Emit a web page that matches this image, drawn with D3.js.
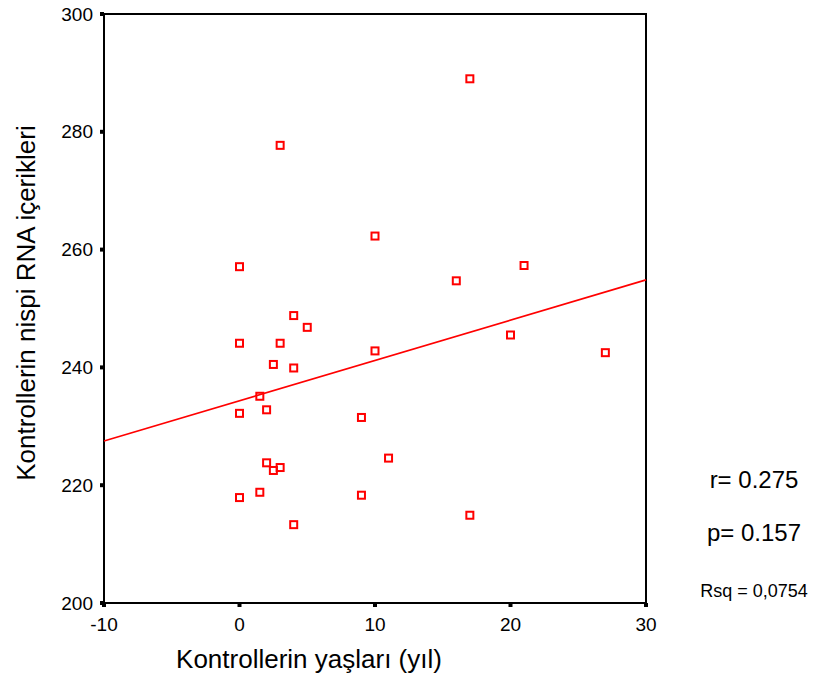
<!DOCTYPE html>
<html>
<head>
<meta charset="utf-8">
<script src="https://cdn.jsdelivr.net/npm/d3@7"></script>
<style>
  body { margin: 0; background: #fff; }
  text { font-family: "Liberation Sans", Arial, sans-serif; fill: #000; }
</style>
</head>
<body>
<div id="div_chart"></div>
<script>
// Data
var ages = [17, 3, 10, 0, 21, 16, 4, 5, 0, 3, 20, 10, 27, 2.5, 4, 1.5, 0, 2, 9, 2, 2.5, 3, 11, 1.5, 0, 9, 4, 17];
var rnaValues = [289.0, 277.7, 262.3, 257.1, 257.3, 254.7, 248.8, 246.8, 244.1, 244.1, 245.5, 242.8, 242.5, 240.5, 239.9, 235.1, 232.2, 232.8, 231.5, 223.8, 222.5, 223.0, 224.6, 218.8, 217.9, 218.3, 213.3, 214.9];
var xTicks = [-10, 0, 10, 20, 30];
var yTicks = [200, 220, 240, 260, 280, 300];
var statLabels = ["r= 0.275", "p= 0.157"];
var rsqLabel = "Rsq = 0,0754";

var data = ages.map(function (a, i) { return {x: a, y: rnaValues[i]}; });

// Set the dimensions of the svg
var margin = {top: 14, right: 173, bottom: 85, left: 104};
var svgWidth = 819;
var svgHeight = 688;
var graphWidth = svgWidth - margin.left - margin.right;
var graphHeight = svgHeight - margin.top - margin.bottom;

var svg = d3.select("#div_chart")
    .append("svg")
        .attr("width", svgWidth)
        .attr("height", svgHeight)
    .append("g")
        .attr("transform", "translate(" + margin.left + "," + margin.top + ")");

var x = d3.scaleLinear().domain([-10, 30]).range([0, graphWidth]);
var y = d3.scaleLinear().domain([200, 300]).range([graphHeight, 0]);

// Frame
svg.append("rect")
    .attr("x", 0).attr("y", 0)
    .attr("width", graphWidth).attr("height", graphHeight)
    .attr("fill", "none").attr("stroke", "#000").attr("stroke-width", 2);

// Y ticks (small black squares) and labels
svg.selectAll("yTick")
    .data(yTicks)
    .enter()
    .append("rect")
    .attr("x", -4).attr("y", d => y(d) - 2)
    .attr("width", 4).attr("height", 4)
    .attr("fill", "#000");
svg.selectAll("yLabel")
    .data(yTicks)
    .enter()
    .append("text")
    .attr("x", -11).attr("y", d => y(d))
    .attr("dy", "0.35em")
    .attr("text-anchor", "end")
    .style("font-size", "19px")
    .text(d => d);

// X ticks and labels
svg.selectAll("xTick")
    .data(xTicks)
    .enter()
    .append("rect")
    .attr("x", d => x(d) - 2).attr("y", graphHeight)
    .attr("width", 4).attr("height", 4)
    .attr("fill", "#000");
svg.selectAll("xLabel")
    .data(xTicks)
    .enter()
    .append("text")
    .attr("x", d => x(d)).attr("y", graphHeight + 28)
    .attr("text-anchor", "middle")
    .style("font-size", "19px")
    .text(d => d);

// Least squares fit line
var mx = d3.mean(data, d => d.x), my = d3.mean(data, d => d.y);
var sxy = d3.sum(data, d => (d.x - mx) * (d.y - my));
var sxx = d3.sum(data, d => (d.x - mx) * (d.x - mx));
var slope = sxy / sxx, icept = my - slope * mx;
svg.append("line")
    .attr("x1", x(-10)).attr("y1", y(icept + slope * -10))
    .attr("x2", x(30)).attr("y2", y(icept + slope * 30))
    .attr("stroke", "#ff0000").attr("stroke-width", 1.6);

// Points
svg.selectAll("pt")
    .data(data)
    .enter()
    .append("rect")
    .attr("x", d => x(d.x) - 3.5).attr("y", d => y(d.y) - 3.5)
    .attr("width", 7).attr("height", 7)
    .attr("fill", "none").attr("stroke", "#ff0000").attr("stroke-width", 2);

// Axis titles
svg.append("text")
    .attr("x", 205).attr("y", graphHeight + 65)
    .attr("text-anchor", "middle")
    .style("font-size", "26px")
    .text("Kontrollerin yaşları (yıl)");
svg.append("text")
    .attr("transform", "translate(-69," + 289 + ")rotate(-90)")
    .attr("text-anchor", "middle")
    .style("font-size", "26px")
    .text("Kontrollerin nispi RNA içerikleri");

// Stats
svg.selectAll("stat")
    .data(statLabels)
    .enter()
    .append("text")
    .attr("x", 650).attr("y", (d, i) => 474 + i * 53)
    .attr("text-anchor", "middle")
    .style("font-size", "24px")
    .text(d => d);
svg.append("text")
    .attr("x", 650).attr("y", 583)
    .attr("text-anchor", "middle")
    .style("font-size", "18px")
    .text(rsqLabel);
</script>
</body>
</html>
